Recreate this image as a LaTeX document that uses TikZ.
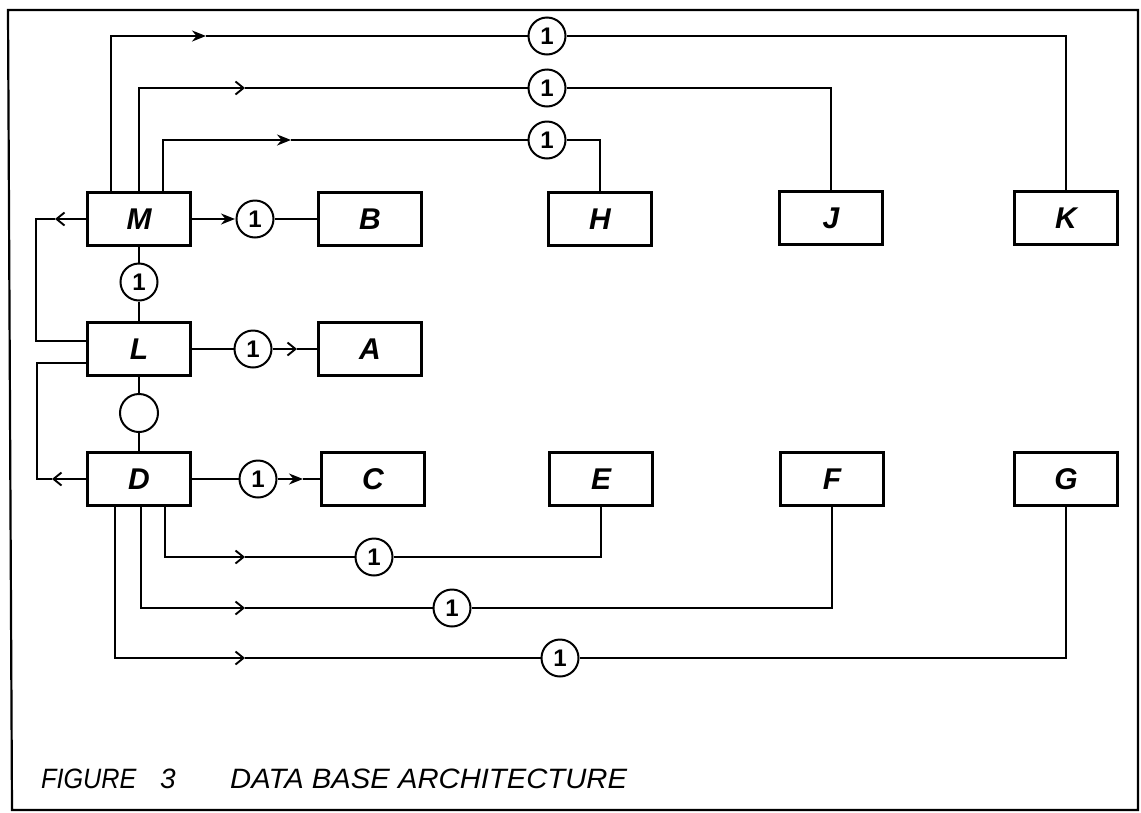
\documentclass[tikz,border=0pt]{standalone}
\usepackage{fontspec}
\setmainfont{Liberation Sans}
\usetikzlibrary{arrows.meta}
\begin{document}
\begin{tikzpicture}[x=1pt,y=-1pt,
  box/.style={draw, line width=2.6pt, minimum width=103pt, minimum height=53pt, inner sep=0pt,
    font=\fontsize{30}{30}\selectfont\itshape\bfseries},
  ring/.style={draw, circle, line width=2pt, minimum size=37pt, inner sep=0pt,
    font=\fontsize{24}{24}\selectfont\bfseries},
  wire/.style={line width=1.9pt},
  fa/.style={wire, -{Stealth[length=14pt,width=11pt]}},
  oa/.style={wire, -{Straight Barb[length=8pt,width=13pt]}},
  captext/.style={anchor=base west, inner sep=0pt, font=\fontsize{28}{28}\selectfont\itshape}
]
\useasboundingbox (0,0) rectangle (1141,812);
\draw[line width=2.2pt] (8,10) -- (1138,10) -- (1138,810) -- (12,810) -- cycle;

% boxes
\node[box] (M) at (139,219) {M};
\node[box] (B) at (370,219) {B};
\node[box] (H) at (600,219) {H};
\node[box] (J) at (831,218) {J};
\node[box] (K) at (1066,218) {K};
\node[box] (L) at (139,349) {L};
\node[box] (A) at (370,349) {A};
\node[box] (D) at (139,479) {D};
\node[box] (C) at (373,479) {C};
\node[box] (E) at (601,479) {E};
\node[box] (F) at (832,479) {F};
\node[box] (G) at (1066,479) {G};

% circles
\node[ring] (c1) at (547,36) {1};
\node[ring] (c2) at (547,88) {1};
\node[ring] (c3) at (547,140) {1};
\node[ring] (cMB) at (255,219) {1};
\node[ring] (cML) at (139,282) {1};
\node[ring] (cLA) at (253,349) {1};
\node[ring, minimum size=38pt] (cLD) at (139,413) {};
\node[ring] (cDC) at (258,479) {1};
\node[ring] (c4) at (374,557) {1};
\node[ring] (c5) at (452,608) {1};
\node[ring] (c6) at (560,658) {1};

% arrow positions
\coordinate (a1) at (206,36);
\coordinate (a2) at (245,88);
\coordinate (a3) at (291,140);
\coordinate (aMB) at (235,219);
\coordinate (aLA) at (297,349);
\coordinate (aDC) at (303,479);
\coordinate (aM) at (55,219);
\coordinate (aD) at (52,479);
\coordinate (q1) at (36,219);
\coordinate (q2) at (37,479);
\coordinate (b1) at (245,557);
\coordinate (b2) at (245,608);
\coordinate (b3) at (245,658);

% top lines from M
\draw[fa] ([xshift=-28pt]M.north) |- (a1);
\draw[wire] (a1) -- (c1);
\draw[wire] (c1) -| (K);
\draw[oa] (M.north) |- (a2);
\draw[wire] (a2) -- (c2);
\draw[wire] (c2) -| (J);
\draw[fa] ([xshift=24pt]M.north) |- (a3);
\draw[wire] (a3) -- (c3);
\draw[wire] (c3) -| (H);

% M row
\draw[fa] (M) -- (aMB);
\draw[wire] (cMB) -- (B);
\draw[oa] (M) -- (aM);
\draw[wire] (aM) -- (q1) |- ([yshift=8pt]L.west);

% verticals
\draw[wire] (M) -- (cML) -- (L);
\draw[wire] (L) -- (cLD) -- (D);

% L row
\draw[wire] (L) -- (cLA);
\draw[oa] (cLA) -- (aLA);
\draw[wire] (aLA) -- (A);

% D row
\draw[wire] (D) -- (cDC);
\draw[fa] (cDC) -- (aDC);
\draw[wire] (aDC) -- (C);
\draw[oa] (D) -- (aD);
\draw[wire] (aD) -- (q2) |- ([yshift=-14pt]L.west);

% bottom lines from D
\draw[oa] ([xshift=26pt]D.south) |- (b1);
\draw[wire] (b1) -- (c4);
\draw[wire] (c4) -| (E);
\draw[oa] ([xshift=2pt]D.south) |- (b2);
\draw[wire] (b2) -- (c5);
\draw[wire] (c5) -| (F);
\draw[oa] ([xshift=-24pt]D.south) |- (b3);
\draw[wire] (b3) -- (c6);
\draw[wire] (c6) -| (G);

% caption
\node[captext] (cap1) at (41,788) {\scalebox{0.9}[1]{FIGURE}};
\node[captext] (cap2) at (160,788) {3};
\node[captext] (cap3) at (230,788) {\scalebox{1.044}[1]{DATA BASE ARCHITECTURE}};
\end{tikzpicture}
\end{document}
